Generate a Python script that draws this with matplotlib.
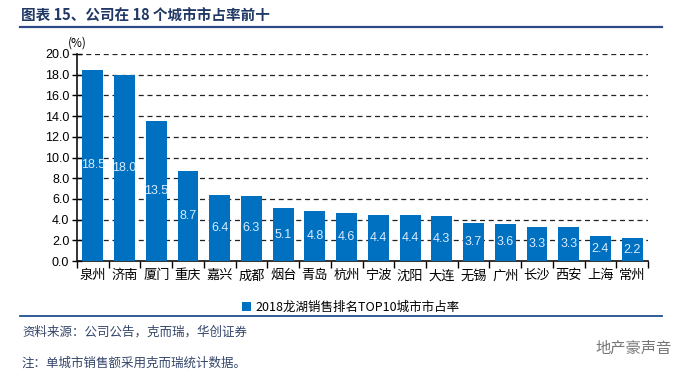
import matplotlib.pyplot as plt
import numpy as np

plt.rcParams['font.family'] = ['Noto Sans CJK SC', 'DejaVu Sans']

# data
cities = ['泉州', '济南', '厦门', '重庆', '嘉兴', '成都', '烟台', '青岛', '杭州',
          '宁波', '沈阳', '大连', '无锡', '广州', '长沙', '西安', '上海', '常州']
share = [18.5, 18.0, 13.5, 8.7, 6.4, 6.3, 5.1, 4.8, 4.6,
         4.4, 4.4, 4.3, 3.7, 3.6, 3.3, 3.3, 2.4, 2.2]
yticks = np.arange(0, 20.1, 2.0)
series_name = '2018龙湖销售排名TOP10城市市占率'

bar_color = '#0070C0'
navy = '#1F3864'

fig = plt.figure(figsize=(7.0, 3.77), dpi=100)
ax = fig.add_axes([77 / 700, 1 - 261 / 377, (648 - 77) / 700, (261 - 54) / 377])

x = np.arange(len(cities))
bars = ax.bar(x, share, width=0.66, color=bar_color, zorder=3, label=series_name)

for b, v in zip(bars, share):
    ax.text(b.get_x() + b.get_width() / 2, v / 2, f'{v:.1f}', ha='center', va='center',
            color='#D9ECFF', fontsize=9, family=['Liberation Sans', 'DejaVu Sans'], zorder=4)

ax.set_xlim(-0.5, len(cities) - 0.5)
ax.set_ylim(0, 20)
ax.set_yticks(yticks)
ax.set_yticklabels([f'{t:.1f}' for t in yticks], family=['Liberation Sans', 'DejaVu Sans'], fontsize=9)
ax.yaxis.grid(True, linestyle=(0, (4, 3)), color='#222222', linewidth=0.9, zorder=0)
ax.tick_params(axis='y', direction='inout', length=7, width=1, pad=2)

# category ticks at boundaries, labels centered
ax.set_xticks(np.arange(-0.5, len(cities)), minor=False)
ax.set_xticklabels([])
ax.set_xticks(x, minor=True)
ax.set_xticklabels(cities, minor=True, fontsize=9.5)
ax.tick_params(axis='x', which='major', direction='out', length=5, width=1)
ax.tick_params(axis='x', which='minor', length=0, pad=6)

for s in ['top', 'right']:
    ax.spines[s].set_visible(False)
for s in ['left', 'bottom']:
    ax.spines[s].set_linewidth(1.2)
    ax.spines[s].set_color('#111111')

ax.text(0, 1.02, '(%)', transform=ax.transAxes, ha='center', va='bottom', fontsize=8.5)

ax.legend(loc='upper center', bbox_to_anchor=(0.48, -0.14), frameon=False, fontsize=9,
          handlelength=0.7, handleheight=0.7, handletextpad=0.4)

# header / footer
fig.text(21 / 700, 1 - 16 / 377, '图表 15、公司在 18 个城市市占率前十', fontsize=10.5,
         fontweight='bold', color=navy, va='center', ha='left')
fig.add_artist(plt.Line2D([20 / 700, 662 / 700], [1 - 27 / 377] * 2, color='#2E4A86', linewidth=1.6))
fig.add_artist(plt.Line2D([20 / 700, 662 / 700], [1 - 316 / 377] * 2, color='#1F4E8C', linewidth=1.3))
fig.text(22 / 700, 1 - 332 / 377, '资料来源：公司公告，克而瑞，华创证券', fontsize=9,
         style='italic', color='#34456A', va='center', ha='left')
fig.text(22 / 700, 1 - 363 / 377, '注：单城市销售额采用克而瑞统计数据。', fontsize=9,
         style='italic', color='#34456A', va='center', ha='left')
fig.text(595 / 700, 1 - 348 / 377, '地产豪声音', fontsize=11, color='#777777', va='center', ha='left')

fig.savefig('out.png', dpi=100, facecolor='white')
